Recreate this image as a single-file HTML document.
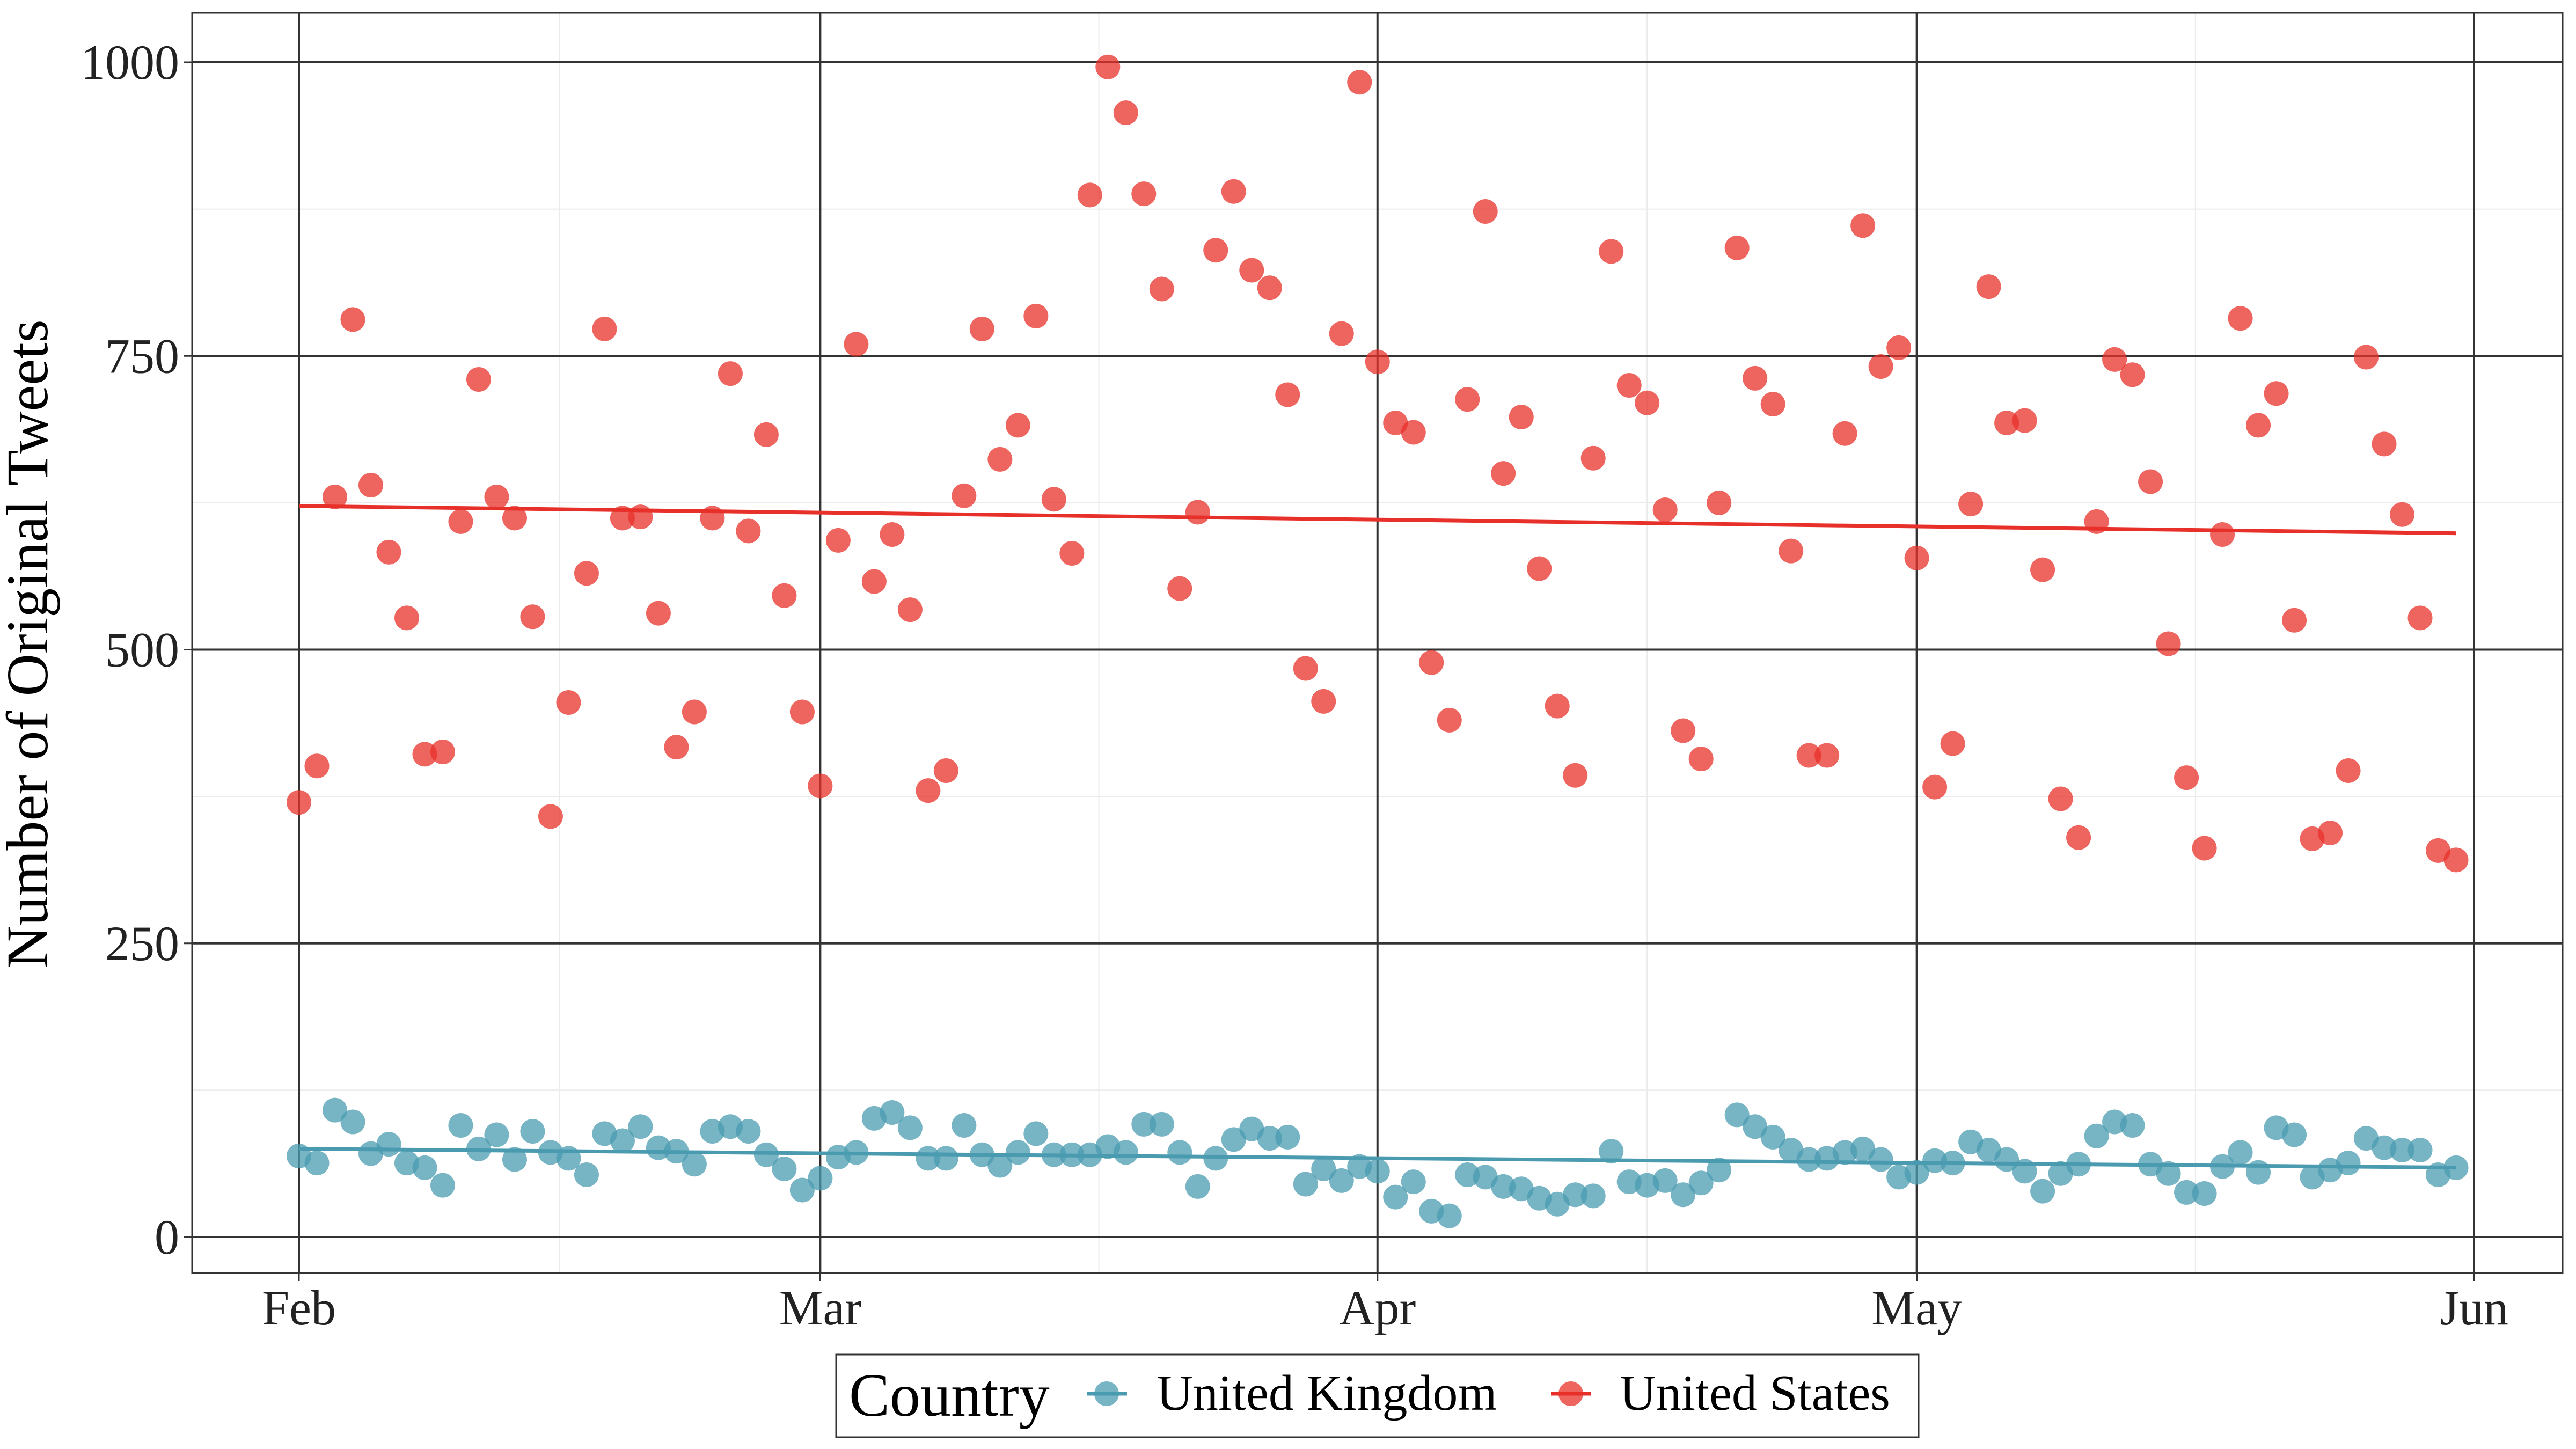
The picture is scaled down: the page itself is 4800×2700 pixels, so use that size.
<!DOCTYPE html>
<html><head><meta charset="utf-8">
<style>
html,body{margin:0;padding:0;background:#fff;}
svg{display:block;font-family:"Liberation Serif",serif;}
</style></head>
<body>
<svg id="chart" width="4800" height="2700" viewBox="0 0 4800 2700" xmlns="http://www.w3.org/2000/svg">
<rect x="0" y="0" width="4800" height="2700" fill="#fff"/>
<g id="grid"></g>
<g id="axes"></g>
<g id="marks"></g>
<rect x="358" y="24" width="4417" height="2348" fill="none" stroke="#333" stroke-width="3"/>
<text transform="translate(88,1200) rotate(-90)" text-anchor="middle" font-size="110" fill="#000">Number of Original Tweets</text>
<g>
<rect x="1558" y="2524" width="2017" height="154" fill="#fff" stroke="#333" stroke-width="3"/>
<text x="1582" y="2638" font-size="114">Country</text>
<g>
<line x1="2025" y1="2597" x2="2100" y2="2597" stroke="#4a9bb0" stroke-width="7"/>
<circle cx="2062" cy="2597" r="23" fill="rgba(74,155,176,0.75)"/>
<text x="2155" y="2627" font-size="94">United Kingdom</text>
</g>
<g>
<line x1="2890" y1="2597" x2="2965" y2="2597" stroke="#e8302a" stroke-width="7"/>
<circle cx="2927" cy="2597" r="23" fill="rgba(232,48,42,0.75)"/>
<text x="3018" y="2627" font-size="94">United States</text>
</g>
</g>
</svg>
<script>
const usValues=[370,401,630,781,640,583,527,411,413,609,730,630,612,528,358,455,565,773,612,613,531,417,447,612,735,601,683,546,447,
384,593,760,558,598,534,380,397,631,773,662,691,784,628,582,887,996,957,888,807,552,617,840,890,823,808,717,484,456,769,983,
745,693,685,489,440,713,873,650,698,569,452,393,663,839,725,710,619,431,407,625,842,731,709,584,410,410,684,861,741,757,
578,383,420,624,809,693,695,568,373,340,609,747,734,643,505,391,331,598,782,691,718,525,339,344,397,749,675,615,527,329,321];
const ukValues=[69,63,108,98,71,79,63,59,44,95,75,87,66,90,72,67,53,88,82,94,76,73,62,90,94,90,70,58,40,
50,68,72,101,106,93,67,67,95,70,61,72,88,70,70,70,77,72,96,96,72,43,67,83,92,84,85,45,58,48,60,
56,34,47,22,18,53,51,43,41,33,28,36,35,73,47,44,48,36,46,57,104,94,85,74,66,67,72,75,66,51,
55,65,63,81,74,66,56,39,54,62,86,98,95,62,54,38,37,60,72,55,93,87,51,57,63,84,76,74,74,53,59];
const monthLabels=["Feb","Mar","Apr","May","Jun"];
const monthDays=[0,29,60,90,121];
const yTicks=[0,250,500,750,1000];
const yMinor=[125,375,625,875];

const NS="http://www.w3.org/2000/svg";
const X0=557,X1=4610,Y0=2305,Y1000=116,PL=358,PR=4775,PT=24,PB=2372;
function xs(d){return X0+(X1-X0)*d/121;}
function ys(v){return Y0+(Y1000-Y0)*v/1000;}
function mk(tag,attrs,parent){const e=document.createElementNS(NS,tag);for(const k in attrs)e.setAttribute(k,attrs[k]);parent.appendChild(e);return e;}
const grid=document.getElementById('grid'),axes=document.getElementById('axes'),marks=document.getElementById('marks');
yMinor.forEach(v=>{const l=mk('line',{x1:PL,x2:PR,y1:ys(v),y2:ys(v),stroke:'#ebebeb','stroke-width':2},grid);

});
for(let i=0;i<monthDays.length-1;i++){const m=(monthDays[i]+monthDays[i+1])/2;
const l=mk('line',{x1:xs(m),x2:xs(m),y1:PT,y2:PB,stroke:'#ebebeb','stroke-width':2},grid);

}
yTicks.forEach(v=>{const l=mk('line',{x1:PL,x2:PR,y1:ys(v),y2:ys(v),stroke:'#333','stroke-width':4},grid);


const t=mk('line',{x1:PL-15,x2:PL,y1:ys(v),y2:ys(v),stroke:'#333','stroke-width':3},axes);


const tx=mk('text',{x:PL-24,y:ys(v)+31,'text-anchor':'end','font-size':92,fill:'#222'},axes);
tx.textContent=v;

});
monthDays.forEach((d,i)=>{const l=mk('line',{x1:xs(d),x2:xs(d),y1:PT,y2:PB,stroke:'#333','stroke-width':4},grid);


const t=mk('line',{x1:xs(d),x2:xs(d),y1:PB,y2:PB+15,stroke:'#333','stroke-width':3},axes);


const tx=mk('text',{x:xs(d),y:2468,'text-anchor':'middle','font-size':92,fill:'#222'},axes);
tx.textContent=monthLabels[i];

});
function series(vals,fill,stroke,name){
 vals.forEach((v,i)=>{const c=mk('circle',{cx:xs(i),cy:ys(v),r:23,fill:fill},marks);
 
 });
 const n=vals.length;let sx=0,sy=0,sxx=0,sxy=0;
 vals.forEach((v,i)=>{sx+=i;sy+=v;sxx+=i*i;sxy+=i*v;});
 const b=(n*sxy-sx*sy)/(n*sxx-sx*sx),a=(sy-b*sx)/n;
 const l=mk('line',{x1:xs(0),y1:ys(a),x2:xs(n-1),y2:ys(a+b*(n-1)),stroke:stroke,'stroke-width':7},marks);
 
 
}
series(usValues,'rgba(232,48,42,0.75)','#e8302a','us');
series(ukValues,'rgba(74,155,176,0.75)','#4a9bb0','uk');
</script>
</body></html>
